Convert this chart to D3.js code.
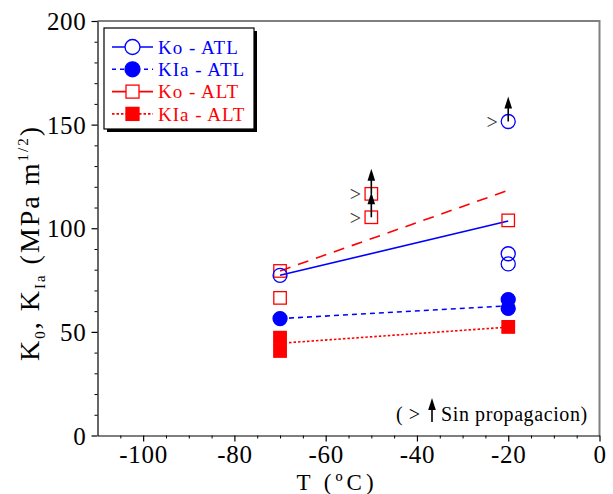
<!DOCTYPE html>
<html>
<head>
<meta charset="utf-8">
<script src="https://cdn.jsdelivr.net/npm/d3@7"></script>
<style>
  html, body { margin: 0; padding: 0; background: #fff; }
  svg { display: block; font-family: "Liberation Serif", "Times New Roman", serif; }
</style>
</head>
<body>
<svg id="chart" width="613" height="494"></svg>
<script>
// Fracture toughness vs temperature: Ko / KIa for ATL and ALT steels
const BLUE = "#0000ff", RED = "#ff0000";

// Measured points (lowerBound = specimen did not propagate, value is a lower limit)
const koATL  = [ { T: -70, K: 77.3 }, { T: -20, K: 151.5, lowerBound: true }, { T: -20, K: 87.7 }, { T: -20, K: 82.8 } ];
const kiaATL = [ { T: -70, K: 56.4 }, { T: -20, K: 65.6 }, { T: -20, K: 61.3 } ];
const koALT  = [ { T: -70, K: 79.4 }, { T: -70, K: 66.4 }, { T: -50, K: 116.6, lowerBound: true }, { T: -50, K: 105.3, lowerBound: true }, { T: -20, K: 103.8 } ];
const kiaALT = [ { T: -70, K: 47.2 }, { T: -70, K: 40.8 }, { T: -20, K: 52.4 } ];

// Trend lines between -70 and -20 ºC
const koATLTrend  = [ { T: -70, K: 77.3 }, { T: -20, K: 103.5 } ];
const kiaATLTrend = [ { T: -70, K: 56.4 }, { T: -20, K: 62.6 } ];
const koALTTrend  = [ { T: -70, K: 79.4 }, { T: -20, K: 118.3 } ];
const kiaALTTrend = [ { T: -70, K: 44.5 }, { T: -20, K: 52.3 } ];

// Axis ticks
const xTicks = [-100, -80, -60, -40, -20, 0];
const yTicks = [0, 50, 100, 150, 200];
const legendLabels = ["Ko - ATL", "KIa - ATL", "Ko - ALT", "KIa - ALT"];

const svg = d3.select("#chart");
const plot = { left: 97.5, right: 599.5, top: 21, bottom: 435.5 };

const x = d3.scaleLinear().domain([-110, 0]).range([plot.left, plot.right]);
const y = d3.scaleLinear().domain([0, 200]).range([plot.bottom, plot.top]);

// Frame: grey top and right edges
svg.append("path")
  .attr("d", `M${plot.left},${plot.top}H${plot.right}V${plot.bottom}`)
  .attr("fill", "none").attr("stroke", "#808080").attr("stroke-width", 2);

// Minor ticks
const xMinor = d3.range(-105, 0, 5).filter(v => v % 20 !== 0);
svg.append("g").attr("transform", `translate(0,${plot.bottom})`)
  .call(d3.axisBottom(x).tickValues(xMinor).tickSize(3).tickFormat(""))
  .call(g => g.select(".domain").remove());
const yMinor = d3.range(10, 200, 10).filter(v => v % 50 !== 0);
svg.append("g").attr("transform", `translate(${plot.left},0)`)
  .call(d3.axisLeft(y).tickValues(yMinor).tickSize(3).tickFormat(""))
  .call(g => g.select(".domain").remove());

// Major axes (plain hyphen for negatives)
const fmt = v => String(v);
const xAxis = svg.append("g").attr("transform", `translate(0,${plot.bottom})`)
  .call(d3.axisBottom(x).tickValues(xTicks).tickFormat(fmt).tickSize(6).tickSizeOuter(0).tickPadding(4));
const yAxis = svg.append("g").attr("transform", `translate(${plot.left},0)`)
  .call(d3.axisLeft(y).tickValues(yTicks).tickFormat(fmt).tickSize(6).tickSizeOuter(0).tickPadding(5));
[xAxis, yAxis].forEach(g => {
  g.selectAll("path, line").attr("stroke", "#000").attr("stroke-width", 1.2);
  g.selectAll("text").attr("fill", "#000").attr("font-size", 25).attr("letter-spacing", 0.7)
    .attr("font-family", "Liberation Serif, Times New Roman, serif");
});
xAxis.selectAll("text").attr("dy", "0.71em");
yAxis.selectAll("text").attr("dy", "0.34em");

// Axis titles
svg.append("text").attr("x", 337).attr("y", 489.5).attr("text-anchor", "middle")
  .attr("font-size", 23).attr("letter-spacing", 4).text("T (ºC)");

const yTitle = svg.append("text")
  .attr("transform", "translate(39,243) rotate(-90)")
  .attr("text-anchor", "middle").attr("font-size", 28).attr("letter-spacing", 2);
yTitle.append("tspan").text("K");
yTitle.append("tspan").attr("font-size", 15).attr("dy", 6).text("0");
yTitle.append("tspan").attr("dy", -6).text(", K");
yTitle.append("tspan").attr("font-size", 15).attr("dy", 6).text("Ia");
yTitle.append("tspan").attr("dy", -6).text(" (MPa m");
yTitle.append("tspan").attr("font-size", 15).attr("dy", -11).text("1/2");
yTitle.append("tspan").attr("dy", 11).text(")");

// Trend lines
const line = d3.line().x(d => x(d.T)).y(d => y(d.K));
const trends = [
  { data: koATLTrend,  color: BLUE, dash: null },
  { data: kiaATLTrend, color: BLUE, dash: "5,4" },
  { data: koALTTrend,  color: RED,  dash: "11,8" },
  { data: kiaALTTrend, color: RED,  dash: "2.5,2" }
];
trends.forEach(t => {
  svg.append("path").datum(t.data).attr("d", line)
    .attr("fill", "none").attr("stroke", t.color).attr("stroke-width", 1.6)
    .attr("stroke-dasharray", t.dash);
});

// Markers
const R = 7, S = 12.5;
function drawCircles(data, filled) {
  svg.append("g").selectAll("circle").data(data).join("circle")
    .attr("cx", d => x(d.T)).attr("cy", d => y(d.K)).attr("r", R)
    .attr("fill", filled ? BLUE : "none").attr("stroke", BLUE).attr("stroke-width", 1.3);
}
function drawSquares(data, filled) {
  svg.append("g").selectAll("rect").data(data).join("rect")
    .attr("x", d => x(d.T) - S / 2).attr("y", d => y(d.K) - S / 2)
    .attr("width", S).attr("height", S)
    .attr("fill", filled ? RED : "none").attr("stroke", RED).attr("stroke-width", 1.3);
}
drawSquares(koALT, false);
drawCircles(koATL, false);
drawSquares(kiaALT, true);
drawCircles(kiaATL, true);

// "No propagation" arrows on lower-bound points
function upArrow(g, cx, yBase, yTip) {
  g.append("line").attr("x1", cx).attr("x2", cx).attr("y1", yBase).attr("y2", yTip + 10)
    .attr("stroke", "#000").attr("stroke-width", 1.6);
  g.append("path").attr("d", `M${cx},${yTip}L${cx - 3.8},${yTip + 12}L${cx + 3.8},${yTip + 12}Z`)
    .attr("fill", "#000");
}
const arrows = svg.append("g");
[...koATL, ...koALT].filter(d => d.lowerBound).forEach(d => {
  const cx = x(d.T), cy = y(d.K);
  upArrow(arrows, cx, cy, cy - 25);
  arrows.append("text").attr("x", cx - 16).attr("y", cy + 1).attr("text-anchor", "middle")
    .attr("font-size", 20).attr("fill", "#333").attr("dy", "0.32em").text(">");
});

// Note in the lower-right corner
const note = svg.append("g");
note.append("text").attr("x", 396).attr("y", 421).attr("font-size", 20).attr("letter-spacing", 0.5)
  .text("(  >");
upArrow(note, 432, 422, 398);
note.append("text").attr("x", 441).attr("y", 421).attr("font-size", 20).attr("letter-spacing", 0.6)
  .text("Sin propagacion)");

// Legend
const lg = svg.append("g");
const box = { x: 104, y: 28, w: 150, h: 101 };
lg.append("rect").attr("x", box.x + 3).attr("y", box.y + 3).attr("width", box.w).attr("height", box.h).attr("fill", "#000");
lg.append("rect").attr("x", box.x).attr("y", box.y).attr("width", box.w).attr("height", box.h)
  .attr("fill", "#fff").attr("stroke", "#000").attr("stroke-width", 1.2);
const rows = [
  { label: legendLabels[0], color: BLUE, dash: null,   shape: "circle", filled: false },
  { label: legendLabels[1], color: BLUE, dash: "4,4",  shape: "circle", filled: true },
  { label: legendLabels[2], color: RED,  dash: null,   shape: "square", filled: false },
  { label: legendLabels[3], color: RED,  dash: "2.5,2", shape: "square", filled: true }
];
rows.forEach((r, i) => {
  const cy = 47 + i * 22.3, x0 = 112, x1 = 153, mx = 132.5;
  lg.append("line").attr("x1", x0).attr("x2", x1).attr("y1", cy).attr("y2", cy)
    .attr("stroke", r.color).attr("stroke-width", 1.6).attr("stroke-dasharray", r.dash);
  if (r.shape === "circle") {
    lg.append("circle").attr("cx", mx).attr("cy", cy).attr("r", 7.5)
      .attr("fill", r.filled ? r.color : "#fff").attr("stroke", r.color).attr("stroke-width", 1.3);
  } else {
    lg.append("rect").attr("x", mx - 6.5).attr("y", cy - 6.5).attr("width", 13).attr("height", 13)
      .attr("fill", r.filled ? r.color : "#fff").attr("stroke", r.color).attr("stroke-width", 1.3);
  }
  lg.append("text").attr("x", 158).attr("y", cy).attr("dy", "0.35em")
    .attr("font-size", 19).attr("letter-spacing", 1).attr("fill", r.color).text(r.label);
});
</script>
</body>
</html>
